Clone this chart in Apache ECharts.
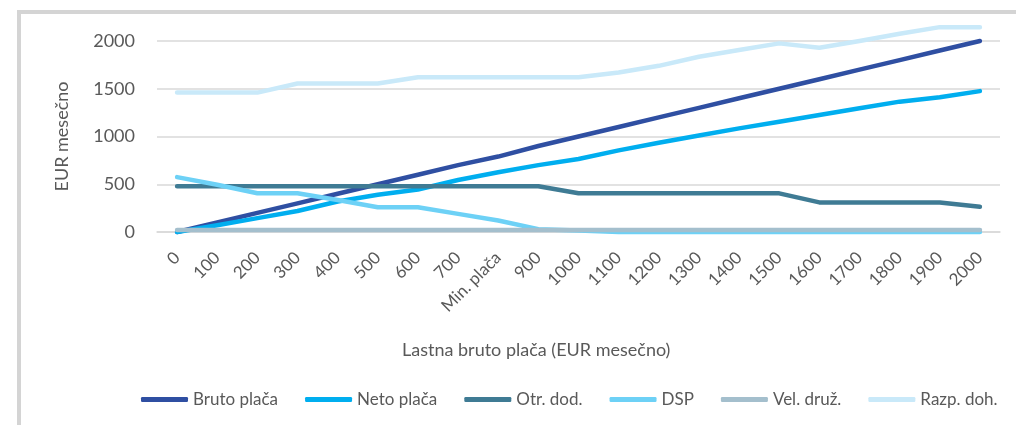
<!DOCTYPE html>
<html>
<head>
<meta charset="utf-8">
<script src="https://cdn.jsdelivr.net/npm/echarts@6/dist/echarts.min.js"></script>
<style>
  html, body { margin: 0; padding: 0; background: #fff; }
  #frame {
    position: absolute; left: 17px; top: 10px;
    width: 1100px; height: 500px;
    border: 4px solid #d4d4d4;
  }
  #chart { position: absolute; left: 0; top: 0; width: 1016px; height: 425px; }
</style>
</head>
<body>
<div id="frame"></div>
<div id="chart"></div>
<script>
const categories = ['0', '100', '200', '300', '400', '500', '600', '700', 'Min. plača', '900',
  '1000', '1100', '1200', '1300', '1400', '1500', '1600', '1700', '1800', '1900', '2000'];

const brutoPlaca = [0, 100, 200, 300, 400, 500, 600, 700, 790, 900,
  1000, 1100, 1200, 1300, 1400, 1500, 1600, 1700, 1800, 1900, 2000];
const netoPlaca = [0, 70, 145, 220, 320, 390, 445, 545, 625, 700,
  765, 855, 935, 1010, 1085, 1155, 1225, 1295, 1365, 1410, 1475];
const otrDod = [480, 480, 480, 480, 480, 480, 480, 480, 480, 480,
  405, 405, 405, 405, 405, 405, 310, 310, 310, 310, 265];
const dsp = [575, 495, 405, 405, 335, 260, 260, 190, 120, 30,
  15, 0, 0, 0, 0, 0, 0, 0, 0, 0, 0];
const velDruz = [20, 20, 20, 20, 20, 20, 20, 20, 20, 20,
  20, 20, 20, 20, 20, 20, 20, 20, 20, 20, 20];
const razpDoh = [1460, 1460, 1460, 1555, 1555, 1555, 1620, 1620, 1620, 1620,
  1620, 1670, 1740, 1835, 1905, 1975, 1930, 2000, 2075, 2145, 2145];

const FONT = 'Lato';
const TEXT = '#595959';

const chart = echarts.init(document.getElementById('chart'), null, { renderer: 'canvas' });

function line(name, data, color) {
  return {
    name: name,
    type: 'line',
    data: data,
    symbol: 'none',
    smooth: false,
    clip: false,
    lineStyle: { color: color, width: 4.5, cap: 'round', join: 'round' },
    itemStyle: { color: color }
  };
}

chart.setOption({
  animation: false,
  backgroundColor: 'transparent',
  textStyle: { fontFamily: FONT, color: TEXT },
  grid: { left: 157, right: 16, top: 41, bottom: 193 },
  legend: {
    left: 136,
    top: 386,
    width: 900,
    icon: 'roundRect',
    itemWidth: 47,
    itemHeight: 5,
    itemGap: 27,
    textStyle: { fontFamily: FONT, fontSize: 17, color: TEXT },
    data: ['Bruto plača', 'Neto plača', 'Otr. dod.', 'DSP', 'Vel. druž.', 'Razp. doh.']
  },
  xAxis: {
    type: 'category',
    data: categories,
    boundaryGap: true,
    axisLine: { show: true, lineStyle: { color: '#d9d9d9', width: 1.5 } },
    axisTick: { show: false },
    axisLabel: {
      rotate: 45,
      interval: 0,
      margin: 23,
      fontFamily: FONT,
      fontSize: 17,
      color: TEXT
    }
  },
  yAxis: {
    type: 'value',
    min: 0,
    max: 2000,
    interval: 500,
    name: 'EUR mesečno',
    nameLocation: 'middle',
    nameGap: 86,
    nameTextStyle: { fontFamily: FONT, fontSize: 18, color: TEXT },
    axisLine: { show: false },
    axisTick: { show: false },
    axisLabel: {
      margin: 22, fontFamily: FONT, fontSize: 18, color: TEXT,
      formatter: function (v) { return String(v); }
    },
    splitLine: { lineStyle: { color: '#d9d9d9', width: 1.5 } }
  },
  graphic: [{
    type: 'text',
    left: 546 - 144,
    top: 341,
    style: {
      text: 'Lastna bruto plača (EUR mesečno)',
      font: '18px Lato',
      fill: TEXT
    }
  }],
  series: [
    line('Bruto plača', brutoPlaca, '#2f4fa2'),
    line('Neto plača', netoPlaca, '#00aeef'),
    line('Otr. dod.', otrDod, '#3f7b94'),
    line('DSP', dsp, '#6dd1f6'),
    line('Vel. druž.', velDruz, '#a4bfcd'),
    line('Razp. doh.', razpDoh, '#c9e9f9')
  ]
});
</script>
</body>
</html>
